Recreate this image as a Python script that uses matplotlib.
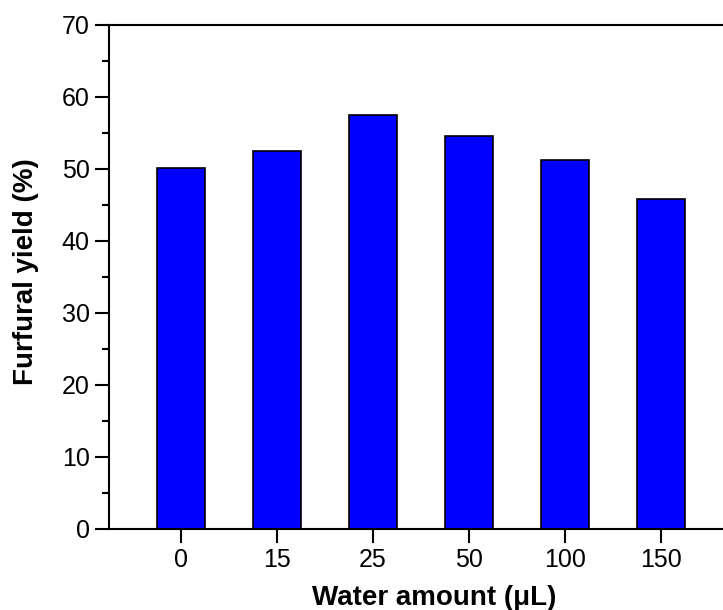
import matplotlib
matplotlib.use("Agg")
import matplotlib.pyplot as plt
import numpy as np

plt.rcParams['font.family'] = ['Liberation Sans', 'DejaVu Sans']

# water amount (uL) vs furfural yield (%)
water = ['0', '15', '25', '50', '100', '150']
yield_pct = [50.1, 52.5, 57.4, 54.6, 51.2, 45.8]

fig = plt.figure(figsize=(7.23, 6.10), dpi=100)
# axes runs past the right edge, as in the original crop
ax = fig.add_axes([0.1508, 0.1334, 0.8626, 0.8261])

x = np.arange(len(water))
ax.bar(x, yield_pct, width=0.5, color='#0000ff', edgecolor='black', linewidth=1.2)

ax.set_xlim(-0.75, 5.75)
ax.set_ylim(0, 70)
ax.set_xticks(x)
ax.set_xticklabels(water)
ax.set_yticks(np.arange(0, 71, 10))
ax.set_yticks(np.arange(5, 70, 10), minor=True)

for s in ax.spines.values():
    s.set_linewidth(1.5)

ax.tick_params(axis='both', which='major', direction='out', length=10, width=1.5,
               labelsize=18, pad=4)
ax.tick_params(axis='y', which='minor', direction='out', length=5, width=1.5)

ax.set_xlabel('Water amount (μL)', fontsize=20, fontweight='bold', labelpad=9, x=0.521)
ax.set_ylabel('Furfural yield (%)', fontsize=20, fontweight='bold', labelpad=16, y=0.51)

fig.savefig('out.png', dpi=100)
